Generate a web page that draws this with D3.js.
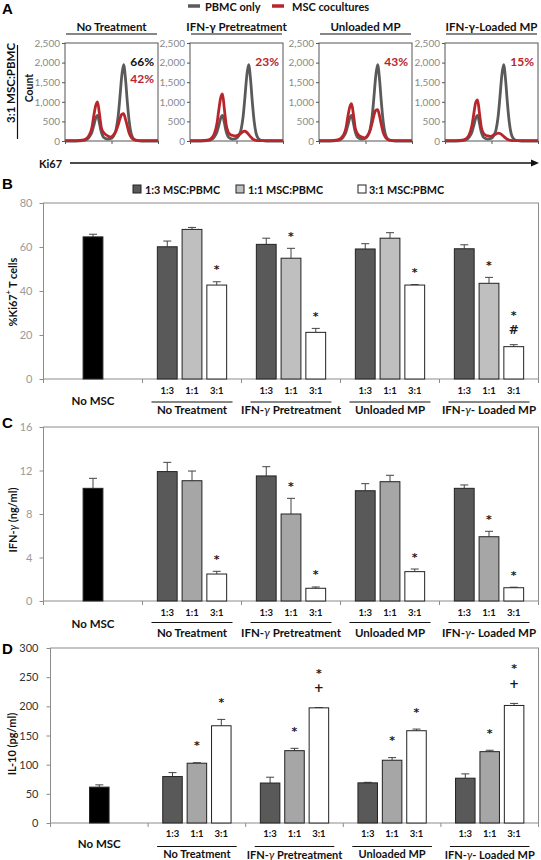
<!DOCTYPE html>
<html><head><meta charset="utf-8">
<script src="https://cdn.jsdelivr.net/npm/d3@7"></script>
<style>
body{margin:0;background:#fff;}
svg{display:block;}
</style></head><body>
<svg id="chart" width="541" height="860"></svg>
<script>
// ---------------- DATA ----------------
// Panel A: flow histograms (x = fluorescence channel 0-100, y = count)
const histGroups = ["No Treatment", "IFN-γ Pretreatment", "Unloaded MP", "IFN-γ-Loaded MP"];
const histX = [0,5,10,15,20,23,26,29,31,33,35,37,39,41,43,46,49,52,55,57,59,61,63,65,67,69,71,73,76,80,85,90,95,100];
const pbmcOnly = [0,0,0,5,15,40,100,230,400,580,650,460,230,110,70,50,60,120,300,600,1100,1650,1950,1600,1000,500,200,80,20,5,0,0,0,0];
const cocNoTreatment = [10,10,10,15,30,60,150,350,650,900,1000,700,350,230,180,130,100,150,260,400,560,680,700,560,380,200,100,50,20,10,10,10,10,10];
const cocIfnPre = [10,10,10,15,30,70,180,450,800,1100,1200,800,400,230,170,140,130,150,200,240,250,220,170,110,60,30,15,10,10,10,10,10,10,10];
const cocUnloaded = [10,10,10,15,30,60,140,330,620,860,950,680,330,200,140,100,80,130,270,450,650,780,800,650,420,220,110,50,20,10,10,10,10,10];
const cocLoaded = [10,10,10,15,30,65,160,400,700,980,1050,720,360,210,160,130,120,150,180,200,190,160,120,80,45,25,15,10,10,10,10,10,10,10];
const pctPbmc = ["66%", "", "", ""];
const pctCoculture = ["42%", "23%", "43%", "15%"];
const histYTicks = [0, 500, 1000, 1500, 2000, 2500];
const histLegend = ["PBMC only", "MSC cocultures"];

// Panels B-D: bar charts
const barGroups = ["No MSC", "No Treatment", "IFN-γ Pretreatment", "Unloaded MP", "IFN-γ- Loaded MP"];
const ratios = ["1:3", "1:1", "3:1"];
const legendLabels = ["1:3 MSC:PBMC", "1:1 MSC:PBMC", "3:1 MSC:PBMC"];

const ki67Mean = [[64.6],[60.1,68.0,42.7],[61.2,54.9,21.2],[59.1,64.0,42.7],[59.2,43.5,14.7]];
const ki67Err  = [[1.2],[2.6,0.9,1.5],[2.8,4.5,1.8],[2.4,2.5,0.2],[1.8,2.7,0.9]];
const ki67Marks = [[""],["","","*"],["","*","*"],["","","*"],["","*","*#"]];
const ki67Ticks = [0,20,40,60,80];

const ifnMean = [[10.36],[11.9,11.06,2.48],[11.5,8.0,1.17],[10.14,10.97,2.70],[10.36,5.91,1.22]];
const ifnErr  = [[0.92],[0.85,0.89,0.25],[0.85,1.44,0.12],[0.65,0.59,0.24],[0.31,0.5,0.05]];
const ifnMarks = [[""],["","","*"],["","*","*"],["","","*"],["","*","*"]];
const ifnTicks = [0,4,8,12,16];

const il10Mean = [[61.5],[79.6,102.5,166.7],[68.5,124,197.4],[68.8,107.6,158.2],[76.8,122.3,201.5]];
const il10Err  = [[3.9],[6.8,0.8,10.9],[10,4,0.6],[0.9,4.5,2.8],[7.4,2.4,3.5]];
const il10Marks = [[""],["","*","*"],["","*","*+"],["","*","*"],["","*","*+"]];
const il10Ticks = [0,50,100,150,200,250,300];

// ---------------- DRAWING ----------------
const F = "Lato, 'Open Sans', sans-serif";
const FL = "'Liberation Sans', Arial, sans-serif";
const FM = "'DejaVu Sans', sans-serif";
const RED = "#b8262c", DGRAY = "#5a5a5a";
const svg = d3.select("#chart");

function txt(sel, x, y, s, o = {}) {
  return sel.append("text").attr("x", x).attr("y", y)
    .attr("text-anchor", o.anchor || "middle").attr("dominant-baseline", "central")
    .attr("font-family", o.family || F).attr("font-weight", o.weight || "bold")
    .attr("font-size", o.size || 11).attr("fill", o.fill || "#111").text(s);
}

// panel letters
[["A", 8], ["B", 183], ["C", 422], ["D", 648]].forEach(([l, y]) =>
  txt(svg, 2, y, l, {anchor: "start", family: FL, size: 15, weight: "bold", fill: "#000"}));

// ---- Panel A ----
const legA = svg.append("g");
[[DGRAY, 188, 200, 205], [RED, 272, 284, 292]].forEach(([c, x1, x2, tx], i) => {
  legA.append("line").attr("x1", x1).attr("x2", x2).attr("y1", 6).attr("y2", 6).attr("stroke", c).attr("stroke-width", 3.5);
  txt(legA, tx, 6, histLegend[i], {anchor: "start", size: 11});
});

const histSeries = [cocNoTreatment, cocIfnPre, cocUnloaded, cocLoaded];
const hLeft = [65, 190, 319, 445], hW = 93, hTop = 43, hBot = 141;
histGroups.forEach((gname, i) => {
  const x = d3.scaleLinear().domain([0, 100]).range([hLeft[i], hLeft[i] + hW]);
  const y = d3.scaleLinear().domain([0, 2500]).range([hBot, hTop]);
  const g = svg.append("g");
  txt(g, hLeft[i] + hW / 2, 26, gname, {size: 11.5});
  g.append("line").attr("x1", hLeft[i] + 1).attr("x2", hLeft[i] + hW - 1).attr("y1", 34).attr("y2", 34).attr("stroke", "#111").attr("stroke-width", 1.2);
  const ya = g.append("g").attr("transform", `translate(${hLeft[i]},0)`)
    .call(d3.axisLeft(y).tickValues(histYTicks).tickSize(3).tickPadding(2).tickFormat(d3.format(",")));
  ya.select(".domain").remove();
  ya.selectAll("line").attr("stroke", "#555");
  ya.selectAll("text").attr("fill", "#8a8a8a").attr("font-family", F).attr("font-size", 10);
  const xa = g.append("g").attr("transform", `translate(0,${hBot})`)
    .call(d3.axisBottom(x).tickValues([0, 50, 100]).tickSize(3).tickFormat(""));
  xa.select(".domain").remove();
  xa.selectAll("line").attr("stroke", "#555");
  g.append("rect").attr("x", hLeft[i]).attr("y", hTop).attr("width", hW).attr("height", hBot - hTop)
    .attr("fill", "none").attr("stroke", "#555").attr("stroke-width", 1);
  const line = d3.line().x((d, k) => x(histX[k])).y(d => y(d)).curve(d3.curveMonotoneX);
  g.append("path").datum(pbmcOnly).attr("d", line).attr("fill", "none").attr("stroke", DGRAY).attr("stroke-width", 2.8);
  g.append("path").datum(histSeries[i]).attr("d", line).attr("fill", "none").attr("stroke", RED).attr("stroke-width", 2.8);
  let row = 0;
  if (pctPbmc[i]) { txt(g, hLeft[i] + hW - 4, 61, pctPbmc[i], {anchor: "end", size: 12, fill: "#111"}); row++; }
  txt(g, hLeft[i] + hW - 4, 61 + row * 17, pctCoculture[i], {anchor: "end", size: 12, fill: RED});
});
// side labels
txt(svg, 0, 0, "3:1 MSC:PBMC", {size: 11.5}).attr("transform", "translate(10,83) rotate(-90)");
svg.append("line").attr("x1", 17.5).attr("x2", 17.5).attr("y1", 45).attr("y2", 139).attr("stroke", "#111").attr("stroke-width", 1.2);
txt(svg, 0, 0, "Count", {size: 10.5}).attr("transform", "translate(28.5,88) rotate(-90)");
txt(svg, 39, 163, "Ki67", {anchor: "start", size: 11});
svg.append("line").attr("x1", 70).attr("x2", 532).attr("y1", 163).attr("y2", 163).attr("stroke", "#111").attr("stroke-width", 1.4);
svg.append("path").attr("d", "M531,159.5 L539,163 L531,166.5 Z").attr("fill", "#111");

// ---- Legend B ----
const legFills = ["#595959", "#bfbfbf", "#ffffff"];
[[133, 145], [236, 248], [358, 369]].forEach(([sx, tx], i) => {
  svg.append("rect").attr("x", sx).attr("y", 185).attr("width", 8).attr("height", 8)
    .attr("fill", legFills[i]).attr("stroke", "#222").attr("stroke-width", 1);
  txt(svg, tx, 189, legendLabels[i], {anchor: "start", size: 10.8});
});

// ---- Bar panel function ----
function barPanel(o) {
  const x = d3.scaleBand().domain(barGroups).range([o.left, o.right]);
  const bw = x.bandwidth(), barW = bw * 0.2, step = bw * 0.25;
  const y = d3.scaleLinear().domain([0, o.max]).range([o.bottom, o.top]);
  const g = svg.append("g");
  g.append("rect").attr("x", o.left).attr("y", o.top).attr("width", o.right - o.left).attr("height", o.bottom - o.top)
    .attr("fill", "none").attr("stroke", "#8c8c8c").attr("stroke-width", 1);
  const ya = g.append("g").attr("transform", `translate(${o.left},0)`)
    .call(d3.axisLeft(y).tickValues(o.ticks).tickSize(4).tickPadding(o.pad));
  ya.select(".domain").remove();
  ya.selectAll("line").attr("stroke", "#8c8c8c");
  ya.selectAll("text").attr("fill", o.tickFill).attr("font-family", F).attr("font-size", o.tickSize);
  const bounds = barGroups.map(d => x(d)).concat([o.right]);
  g.selectAll(null).data(bounds).join("line")
    .attr("x1", d => d).attr("x2", d => d).attr("y1", o.bottom).attr("y2", o.bottom + 4).attr("stroke", "#8c8c8c");
  txt(g, 0, 0, "", {size: 11}).attr("transform", `translate(${o.titleX},${o.titleY}) rotate(-90)`).call(o.title);

  barGroups.forEach((grp, gi) => {
    const vals = o.mean[gi];
    const c0 = x(grp) + bw / 2;
    vals.forEach((v, k) => {
      const cx = c0 + (vals.length === 1 ? 0 : (k - 1) * step);
      const fill = vals.length === 1 ? "#000" : o.fills[k];
      const top = y(v + o.err[gi][k]);
      g.append("line").attr("x1", cx).attr("x2", cx).attr("y1", y(v)).attr("y2", top).attr("stroke", "#444").attr("stroke-width", 1);
      g.append("line").attr("x1", cx - 4).attr("x2", cx + 4).attr("y1", top).attr("y2", top).attr("stroke", "#444").attr("stroke-width", 1);
      g.append("rect").attr("x", cx - barW / 2).attr("y", y(v)).attr("width", barW).attr("height", y(0) - y(v))
        .attr("fill", fill).attr("stroke", "#222").attr("stroke-width", 1);
      const marks = o.marks[gi][k].split("");
      marks.reverse().forEach((m, mi) => {
        const vc = top - o.markGap - mi * 17.5;
        const base = vc + (m === "*" ? 6.5 : 4.5);
        g.append("text").attr("x", cx).attr("y", base).attr("text-anchor", "middle")
          .attr("font-family", FM).attr("font-weight", "bold").attr("font-size", m === "*" ? 11 : 12).attr("fill", "#1a1a1a").text(m);
      });
      if (vals.length > 1) txt(g, cx, o.bottom + o.ratioDy, ratios[k], {size: 9.5});
    });
    if (vals.length === 1) {
      txt(g, c0, o.bottom + o.noDy, grp, {size: 11.5});
    } else {
      g.append("line").attr("x1", x(grp) + 9).attr("x2", x(grp) + bw - 9).attr("y1", o.bottom + o.ulDy).attr("y2", o.bottom + o.ulDy)
        .attr("stroke", "#111").attr("stroke-width", 1.1);
      const lab = txt(g, c0, o.bottom + o.nameDy, "", {size: o.nameSize});
      if (grp.startsWith("IFN")) {
        const rest = grp.slice(5);
        lab.append("tspan").text("IFN-");
        lab.append("tspan").attr("font-style", "italic").attr("font-weight", "normal").text("γ");
        lab.append("tspan").text(rest);
      } else lab.text(grp);
    }
  });
}

barPanel({left: 43.5, right: 538.5, top: 203, bottom: 379, max: 80, ticks: ki67Ticks, pad: 7,
  tickFill: "#9a9a9a", tickSize: 11, mean: ki67Mean, err: ki67Err, marks: ki67Marks,
  fills: ["#595959", "#bfbfbf", "#ffffff"], markGap: 15, ratioDy: 11, noDy: 21, ulDy: 23, nameDy: 30, nameSize: 11.5,
  titleX: 12, titleY: 292,
  title: t => { t.append("tspan").text("%Ki67"); t.append("tspan").attr("font-size", 7).attr("dy", -4).text("+");
    t.append("tspan").attr("dy", 4).text(" T cells"); }});

barPanel({left: 43.5, right: 538.5, top: 427, bottom: 601, max: 16, ticks: ifnTicks, pad: 7,
  tickFill: "#9a9a9a", tickSize: 11, mean: ifnMean, err: ifnErr, marks: ifnMarks,
  fills: ["#595959", "#a6a6a6", "#ffffff"], markGap: 15, ratioDy: 11.5, noDy: 22, ulDy: 21.5, nameDy: 31, nameSize: 11.5,
  titleX: 12, titleY: 520,
  title: t => { t.append("tspan").text("IFN-"); t.append("tspan").attr("font-style", "italic").attr("font-weight", "normal").text("γ");
    t.append("tspan").text(" (ng/ml)"); }});

barPanel({left: 50.5, right: 538.5, top: 648, bottom: 823, max: 300, ticks: il10Ticks, pad: 8,
  tickFill: "#333", tickSize: 11, mean: il10Mean, err: il10Err, marks: il10Marks,
  fills: ["#595959", "#a6a6a6", "#ffffff"], markGap: 20, ratioDy: 10, noDy: 20, ulDy: 23.5, nameDy: 30.5, nameSize: 11,
  titleX: 11, titleY: 744,
  title: t => { t.text("IL-10 (pg/ml)"); }});
</script>
</body></html>
